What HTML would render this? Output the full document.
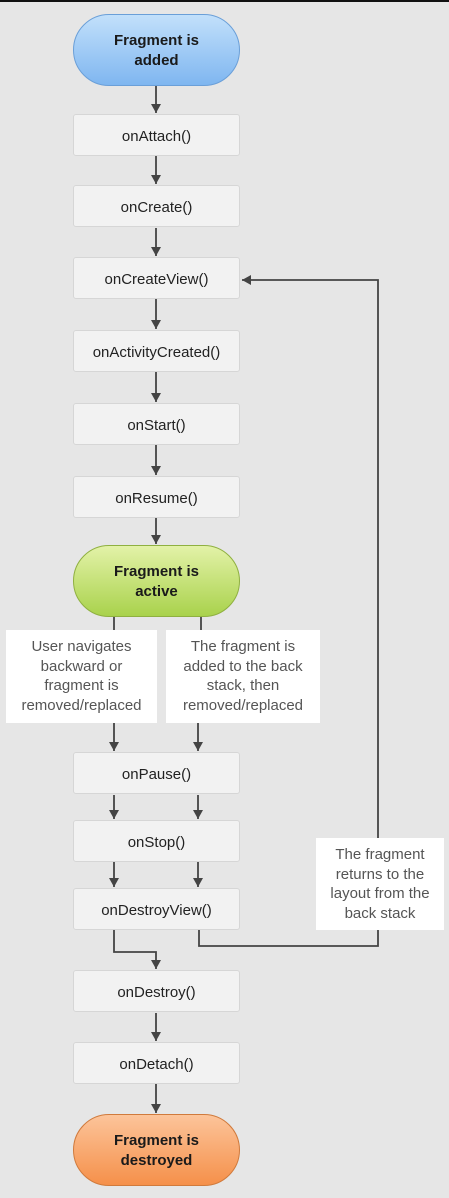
<!DOCTYPE html>
<html><head><meta charset="utf-8"><style>
body{margin:0;width:449px;height:1198px;background:#e6e6e6;position:relative;overflow:hidden;font-family:"Liberation Sans",sans-serif}
.b{position:absolute;left:73px;width:167px;height:42px;box-sizing:border-box;background:#f2f2f2;border:1px solid #d6d6d6;border-radius:3px;text-align:center;line-height:44px;font-size:15px;color:#222}
.p{position:absolute;left:73px;width:167px;height:72px;box-sizing:border-box;border-radius:36px;text-align:center;font-weight:bold;font-size:15px;color:#1a1a1a;padding-top:16px;line-height:20px}
.l{position:absolute;background:#fff;text-align:center;font-size:15px;color:#555;line-height:19.5px;box-sizing:border-box;padding-top:7px}
svg{position:absolute;left:0;top:0}
</style></head><body>
<div style="position:absolute;left:0;top:0;width:449px;height:2px;background:#111"></div>
<svg width="449" height="1198">
<defs><marker id="a" markerWidth="10" markerHeight="10" refX="9" refY="5" orient="auto" markerUnits="userSpaceOnUse"><path d="M0,0 L9,5 L0,10 z" fill="#444"/></marker></defs>
<g stroke="#444" stroke-width="1.8" fill="none">
<line x1="156" y1="86" x2="156" y2="113" marker-end="url(#a)"/>
<line x1="156" y1="156" x2="156" y2="184" marker-end="url(#a)"/>
<line x1="156" y1="228" x2="156" y2="256" marker-end="url(#a)"/>
<line x1="156" y1="299" x2="156" y2="329" marker-end="url(#a)"/>
<line x1="156" y1="372" x2="156" y2="402" marker-end="url(#a)"/>
<line x1="156" y1="445" x2="156" y2="475" marker-end="url(#a)"/>
<line x1="156" y1="518" x2="156" y2="544" marker-end="url(#a)"/>
<line x1="114" y1="617" x2="114" y2="632"/>
<line x1="201" y1="617" x2="201" y2="632"/>
<line x1="114" y1="723" x2="114" y2="751" marker-end="url(#a)"/>
<line x1="198" y1="723" x2="198" y2="751" marker-end="url(#a)"/>
<line x1="114" y1="795" x2="114" y2="819" marker-end="url(#a)"/>
<line x1="198" y1="795" x2="198" y2="819" marker-end="url(#a)"/>
<line x1="114" y1="862" x2="114" y2="887" marker-end="url(#a)"/>
<line x1="198" y1="862" x2="198" y2="887" marker-end="url(#a)"/>
<path d="M114,930 V952 H156 V969" marker-end="url(#a)"/>
<path d="M199,930 V946 H378 V280 H242" marker-end="url(#a)"/>
<line x1="156" y1="1013" x2="156" y2="1041" marker-end="url(#a)"/>
<line x1="156" y1="1084" x2="156" y2="1113" marker-end="url(#a)"/>
</g></svg>
<div class="p" style="top:14px;background:linear-gradient(#c2e0fb,#7fb6f0);border:1px solid #6a9fd8">Fragment is<br>added</div>
<div class="b" style="top:114px">onAttach()</div>
<div class="b" style="top:185px">onCreate()</div>
<div class="b" style="top:257px">onCreateView()</div>
<div class="b" style="top:330px">onActivityCreated()</div>
<div class="b" style="top:403px">onStart()</div>
<div class="b" style="top:476px">onResume()</div>
<div class="p" style="top:545px;background:linear-gradient(#e3f2a8,#a9d24c);border:1px solid #8fb040">Fragment is<br>active</div>
<div class="l" style="left:6px;top:630px;width:151px;height:93px">User navigates<br>backward or<br>fragment is<br>removed/replaced</div>
<div class="l" style="left:166px;top:630px;width:154px;height:93px">The fragment is<br>added to the back<br>stack, then<br>removed/replaced</div>
<div class="b" style="top:752px">onPause()</div>
<div class="b" style="top:820px">onStop()</div>
<div class="b" style="top:888px">onDestroyView()</div>
<div class="l" style="left:316px;top:838px;width:128px;height:92px">The fragment<br>returns to the<br>layout from the<br>back stack</div>
<div class="b" style="top:970px">onDestroy()</div>
<div class="b" style="top:1042px">onDetach()</div>
<div class="p" style="top:1114px;background:linear-gradient(#fcc49a,#f5904a);border:1px solid #d07a3c">Fragment is<br>destroyed</div>
</body></html>
